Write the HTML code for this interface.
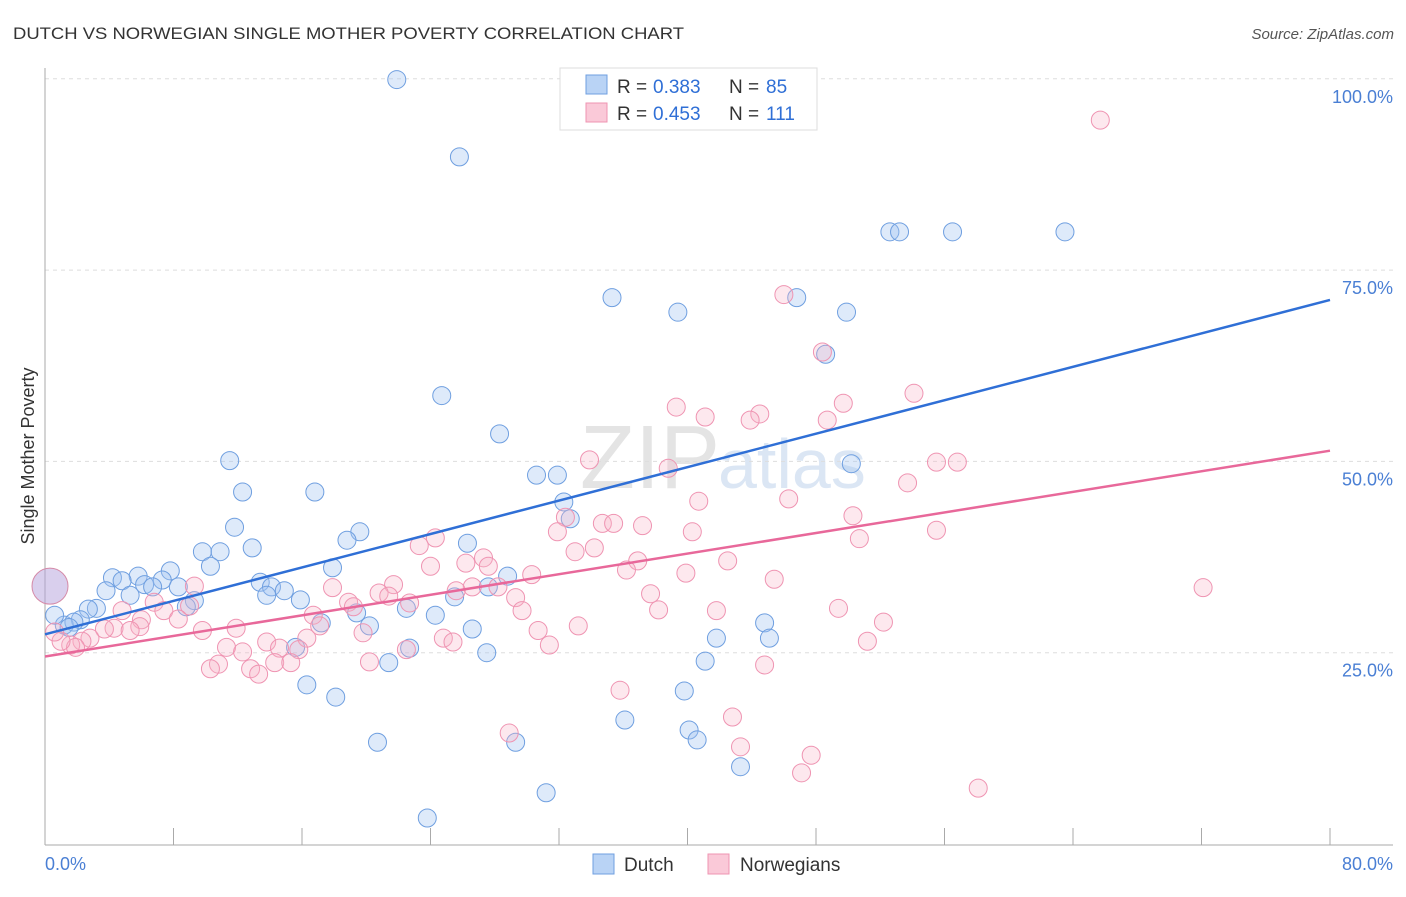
<!DOCTYPE html>
<html><head><meta charset="utf-8"><style>
body{margin:0;background:#fff;font-family:"Liberation Sans",sans-serif}
svg text{font-family:"Liberation Sans",sans-serif}
</style></head><body>
<svg id="c" width="1406" height="892" xmlns="http://www.w3.org/2000/svg">
<text x="13" y="39" font-size="17" fill="#333" textLength="671" lengthAdjust="spacingAndGlyphs">DUTCH VS NORWEGIAN SINGLE MOTHER POVERTY CORRELATION CHART</text>
<text x="1394" y="39" font-size="15" fill="#555" text-anchor="end" font-style="italic">Source: ZipAtlas.com</text>
<text x="720" y="488" font-size="90" fill="#e4e4e4" text-anchor="end" font-family="Liberation Serif">ZIP</text>
<text x="718" y="488" font-size="70" fill="#dbe6f4">atlas</text>
<g id="grid"></g><g id="pts"></g><g id="lines"></g>
<text transform="translate(34,456) rotate(-90)" font-size="18" fill="#333" text-anchor="middle">Single Mother Poverty</text>
<text x="45" y="870" font-size="18" fill="#4a7fd4">0.0%</text>
<text x="1393" y="870" font-size="18" fill="#4a7fd4" text-anchor="end">80.0%</text>
<g>
<rect x="560" y="68" width="257" height="62" fill="#fff" stroke="#ddd"/>
<rect x="586" y="75" width="21" height="19" fill="#b9d3f5" stroke="#6f9fe0"/>
<rect x="586" y="103" width="21" height="19" fill="#fac9d8" stroke="#ef94b2"/>
<text y="93" font-size="19" fill="#333"><tspan x="617">R =</tspan><tspan x="653" fill="#2f6fd6">0.383</tspan><tspan x="729">N =</tspan><tspan x="766" fill="#2f6fd6">85</tspan></text>
<text y="120" font-size="19" fill="#333"><tspan x="617">R =</tspan><tspan x="653" fill="#2f6fd6">0.453</tspan><tspan x="729">N =</tspan><tspan x="766" fill="#2f6fd6">111</tspan></text>
</g>
<g>
<rect x="593" y="854" width="21" height="20" fill="#b9d3f5" stroke="#6f9fe0"/>
<text x="624" y="871" font-size="19" fill="#333">Dutch</text>
<rect x="708" y="854" width="21" height="20" fill="#fac9d8" stroke="#ef94b2"/>
<text x="740" y="871" font-size="19" fill="#333">Norwegians</text>
</g>
</svg>
<script>
const yTicks=[25,50,75,100];
const yTickLabels=["25.0%","50.0%","75.0%","100.0%"];
const xTicks=[0,8,16,24,32,40,48,56,64,72,80];
const dutchX=[21.9,25.8,34.0,35.7,36.9,52.6,53.2,56.5,63.5,35.3,39.4,46.8,49.9,48.6,24.7,28.3,11.5,30.6,31.9,50.2,12.3,16.8,32.3,32.7,11.8,19.6,18.8,26.3,12.9,9.8,10.9,10.3,17.9,7.8,4.2,5.8,4.8,7.3,6.2,6.7,8.3,13.4,14.1,14.9,13.8,3.8,5.3,28.8,27.6,25.5,15.9,9.3,8.8,3.2,2.7,22.5,19.4,24.3,2.2,20.2,17.2,1.2,1.8,26.6,41.8,44.8,45.1,22.7,15.6,27.5,41.1,21.4,16.3,39.8,18.1,36.1,40.1,40.6,20.7,29.3,43.3,31.2,23.8,0.6,1.5];
const dutchY=[99.9,89.8,99.9,99.9,99.9,80.0,80.0,80.0,80.0,71.4,69.5,71.4,69.5,64.0,58.6,53.6,50.1,48.2,48.2,49.7,46.0,46.0,44.7,42.5,41.4,40.8,39.7,39.3,38.7,38.2,38.2,36.3,36.1,35.7,34.8,35.0,34.4,34.5,33.9,33.6,33.6,34.2,33.6,33.1,32.5,33.1,32.5,35.0,33.6,32.3,31.9,31.8,31.0,30.8,30.7,30.8,30.2,29.9,29.3,28.5,28.9,28.6,29.0,28.1,26.9,28.9,26.9,25.6,25.7,25.0,23.9,23.7,20.8,20.0,19.2,16.2,14.9,13.6,13.3,13.3,10.1,6.7,3.4,29.9,28.3];
const norX=[65.7,46.0,48.4,54.1,49.7,39.3,41.1,44.5,43.9,48.7,33.9,38.8,55.5,56.8,53.7,40.7,46.3,50.3,32.4,34.7,35.4,37.2,31.9,40.3,55.5,24.3,23.3,50.7,34.2,33.0,27.3,36.9,42.5,24.0,26.2,27.6,36.2,30.3,39.9,45.4,72.1,9.3,17.9,21.7,26.6,28.2,25.6,20.8,21.4,37.7,29.3,6.8,18.9,22.7,9.0,19.2,7.4,4.8,38.2,29.7,49.4,41.8,16.7,6.0,8.3,5.9,52.2,17.1,4.3,3.7,11.9,9.8,33.2,30.7,5.3,19.8,2.8,24.8,25.4,13.8,16.3,31.4,51.2,2.3,1.6,1.9,1.0,11.3,14.6,15.8,12.3,22.5,14.3,15.3,10.8,20.2,44.8,10.3,12.8,13.3,35.8,42.8,28.9,43.3,47.7,47.1,58.1,0.6];
const norY=[94.6,71.8,64.3,58.9,57.6,57.1,55.8,56.2,55.4,55.4,50.2,49.1,49.9,49.9,47.2,44.8,45.1,42.9,42.7,41.9,41.9,41.6,40.8,40.8,41.0,40.0,39.0,39.9,38.7,38.2,37.4,37.0,37.0,36.3,36.7,36.3,35.8,35.2,35.4,34.6,33.5,33.7,33.5,33.9,33.6,33.6,33.1,32.8,32.4,32.7,32.2,31.6,31.6,31.5,31.1,31.0,30.5,30.5,30.6,30.5,30.8,30.5,29.9,29.3,29.4,28.4,29.0,28.5,28.2,28.1,28.2,27.9,28.5,27.9,27.9,27.6,26.9,26.9,26.4,26.4,26.9,26.0,26.5,26.5,26.0,25.7,26.5,25.7,25.6,25.4,25.1,25.4,23.7,23.7,23.5,23.8,23.4,22.9,22.9,22.2,20.1,16.6,14.5,12.7,11.6,9.3,7.3,27.7];
const dutchTrend=[27.4,71.1];
const norTrend=[24.5,51.4];
const ns="http://www.w3.org/2000/svg";
const X=v=>45+v/80*1285, Y=v=>844-v*7.652;
function mk(t,a,p){const e=document.createElementNS(ns,t);for(const k in a)e.setAttribute(k,a[k]);p.appendChild(e);return e;}
const g=document.getElementById('grid');
yTicks.forEach((t,i)=>{
 const l=mk('line',{x1:45,x2:1393,y1:Y(t),y2:Y(t),stroke:'#ddd','stroke-dasharray':'4,4'},g);
 
 
 const tx=mk('text',{x:1393,y:Y(t)+24,'font-size':18,fill:'#4a7fd4','text-anchor':'end'},g);
 tx.textContent=yTickLabels[i];
 
 
});
const ax=mk('line',{x1:45,x2:45,y1:68,y2:845,stroke:'#aaa'},g);


const bx=mk('line',{x1:45,x2:1393,y1:845,y2:845,stroke:'#aaa'},g);


xTicks.forEach(t=>{const l=mk('line',{x1:X(t),x2:X(t),y1:828,y2:845,stroke:'#aaa'},g);
 
 });
const p=document.getElementById('pts');
let big=mk('circle',{cx:50,cy:Y(33.7),r:18,fill:'rgba(180,160,220,0.5)',stroke:'#d58aa8'},p);


dutchX.forEach((x,i)=>{const c=mk('circle',{cx:X(x),cy:Y(dutchY[i]),r:9,fill:'rgba(160,196,240,0.35)',stroke:'#6f9fe0','stroke-width':1},p);
 
 });
norX.forEach((x,i)=>{const c=mk('circle',{cx:X(x),cy:Y(norY[i]),r:9,fill:'rgba(248,180,200,0.3)',stroke:'#ef94b2','stroke-width':1},p);
 
 });
const L=document.getElementById('lines');
const l1=mk('line',{x1:X(0),y1:Y(dutchTrend[0]),x2:X(80),y2:Y(dutchTrend[1]),stroke:'#2f6fd6','stroke-width':2.5},L);


const l2=mk('line',{x1:X(0),y1:Y(norTrend[0]),x2:X(80),y2:Y(norTrend[1]),stroke:'#e8689a','stroke-width':2.5},L);


</script>
</body></html>
